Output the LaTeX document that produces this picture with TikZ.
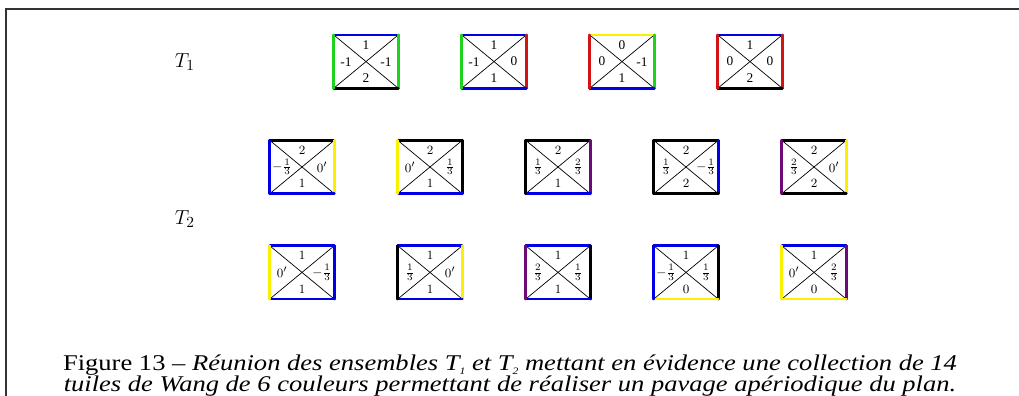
\documentclass[tikz,border=0pt]{standalone}
\usepackage{amsmath}
\usepackage{amssymb}
\usepackage{fontspec}
\setmainfont{Liberation Serif}
\usepackage{tikz}

\definecolor{wblue}{RGB}{0,0,230}
\definecolor{wgreen}{RGB}{30,210,30}
\definecolor{wred}{RGB}{210,20,20}
\definecolor{wyellow}{RGB}{250,240,0}
\definecolor{wpurple}{RGB}{110,10,120}

\newcommand{\tsub}[1]{\raisebox{-0.45ex}{\scriptsize #1}}

\begin{document}
\begin{tikzpicture}[line width = 0.5pt,
                    tuile/.style = {rectangle, minimum width = 1.6cm, minimum height = 1.32cm, inner sep = 0pt},
                    bord/.style = {line width = 1.8pt, line cap = round},
                    diag/.style = {line width = 0.5pt},
                    lab/.style = {inner sep = 0pt, font = \fontsize{9.5}{10}\selectfont}]
  \useasboundingbox (0, 0) rectangle (25.475, -9.9);
  % cadre
  \coordinate (c1) at (25.475, -0.225);
  \coordinate (c2) at (0.15, -0.225);
  \coordinate (c3) at (0.15, -9.9);
  \draw [line width = 1.2pt, black!80] (c1) -- (c2) -- (c3);

  \node (T1) at (4.62, -1.55) {\fontsize{15}{18}\selectfont $T_1$};
  \node (T2) at (4.62, -5.48) {\fontsize{15}{18}\selectfont $T_2$};

  % nom / x / y / haut / droite / bas / gauche (couleurs puis etiquettes)
  \foreach \n/\x/\y/\ch/\cd/\cb/\cg/\lh/\ld/\lb/\lg in {
      a1/9.15/-1.54/wblue/wgreen/black/wgreen/1/-1/2/-1,
      a2/12.35/-1.54/wblue/wred/wblue/wgreen/1/0/1/-1,
      a3/15.55/-1.54/wyellow/wgreen/wblue/wred/0/-1/1/0,
      a4/18.75/-1.54/wblue/wred/black/wred/1/0/2/0,
      b1/7.55/-4.175/black/wyellow/wblue/wblue/$2$/$0'$/$1$/{$-\frac{1}{3}$},
      b2/10.75/-4.175/black/black/wblue/wyellow/$2$/{$\frac{1}{3}$}/$1$/$0'$,
      b3/13.95/-4.175/black/wpurple/wblue/black/$2$/{$\frac{2}{3}$}/$1$/{$\frac{1}{3}$},
      b4/17.15/-4.175/black/wblue/black/black/$2$/{$-\frac{1}{3}$}/$2$/{$\frac{1}{3}$},
      b5/20.35/-4.175/black/wyellow/black/wpurple/$2$/$0'$/$2$/{$\frac{2}{3}$},
      c1/7.55/-6.81/wblue/wblue/wblue/wyellow/$1$/{$-\frac{1}{3}$}/$1$/$0'$,
      c2/10.75/-6.81/wblue/wyellow/wblue/black/$1$/$0'$/$1$/{$\frac{1}{3}$},
      c3/13.95/-6.81/wblue/black/wblue/wpurple/$1$/{$\frac{1}{3}$}/$1$/{$\frac{2}{3}$},
      c4/17.15/-6.81/wblue/black/wyellow/wblue/$1$/{$\frac{1}{3}$}/$0$/{$-\frac{1}{3}$},
      c5/20.35/-6.81/wblue/wpurple/wyellow/wyellow/$1$/{$\frac{2}{3}$}/$0$/$0'$}{
    \node [tuile] (\n) at (\x, \y){};
    \draw [diag] (\n.north west) -- (\n.south east);
    \draw [diag] (\n.south west) -- (\n.north east);
    \draw [bord, \ch] (\n.north west) -- (\n.north east);
    \draw [bord, \cd] (\n.north east) -- (\n.south east);
    \draw [bord, \cb] (\n.south east) -- (\n.south west);
    \draw [bord, \cg] (\n.south west) -- (\n.north west);
    \path (\n.center) ++(0, 0.42) node [lab] (\n-h) {\lh};
    \path (\n.center) ++(0.5, 0) node [lab] (\n-d) {\ld};
    \path (\n.center) ++(0, -0.42) node [lab] (\n-b) {\lb};
    \path (\n.center) ++(-0.5, 0) node [lab] (\n-g) {\lg};
  }

  \node [align = center, anchor = north, xscale = 1.18, transform shape,
         font = \fontsize{16}{15}\selectfont] (leg) at (12.75, -8.74)
    {Figure 13 --  \textit{Réunion des ensembles T\tsub{1} et T\tsub{2} mettant en évidence une collection de 14}\\
     \textit{tuiles de Wang de 6 couleurs permettant de réaliser un pavage apériodique du plan.}};
\end{tikzpicture}
\end{document}
